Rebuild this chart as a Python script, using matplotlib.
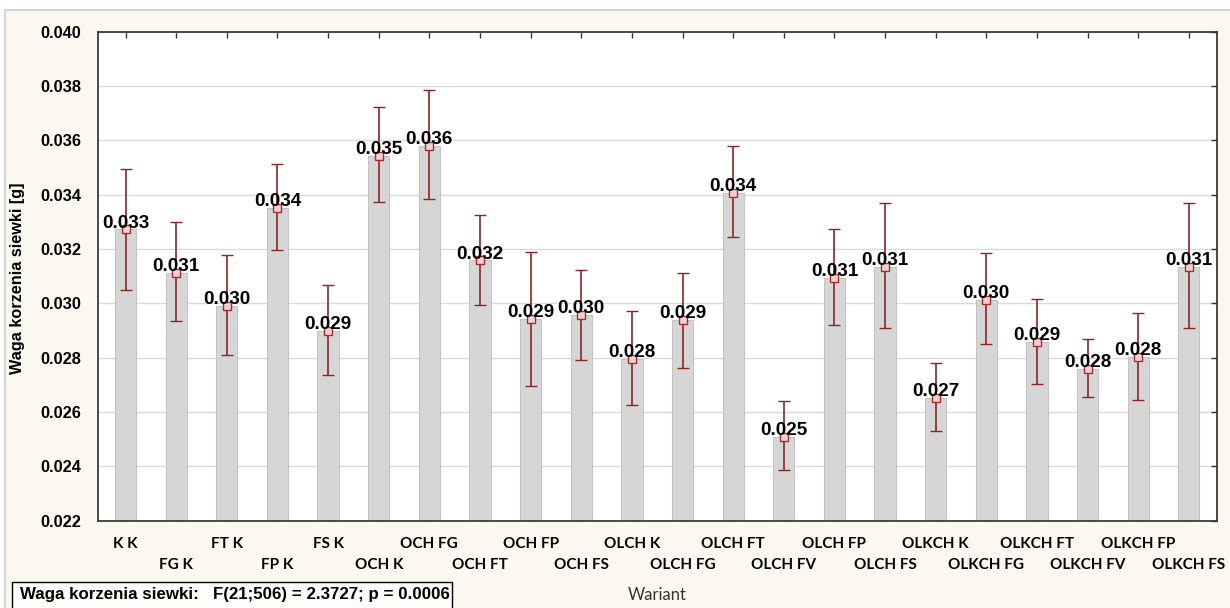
import matplotlib
matplotlib.use("Agg")
import matplotlib.pyplot as plt
from matplotlib.patches import Rectangle
import numpy as np

categories = ["K K", "FG K", "FT K", "FP K", "FS K", "OCH K", "OCH FG", "OCH FT",
              "OCH FP", "OCH FS", "OLCH K", "OLCH FG", "OLCH FT", "OLCH FV",
              "OLCH FP", "OLCH FS", "OLKCH K", "OLKCH FG", "OLKCH FT", "OLKCH FV",
              "OLKCH FP", "OLKCH FS"]
means = [0.03272, 0.03112, 0.02992, 0.03351, 0.02900, 0.03544, 0.03581, 0.03158,
         0.02943, 0.02956, 0.02797, 0.02938, 0.03407, 0.02509, 0.03092, 0.03135,
         0.02651, 0.03013, 0.02857, 0.02760, 0.02802, 0.03135]
ci_low = [0.03048, 0.02934, 0.02809, 0.03195, 0.02738, 0.03373, 0.03386, 0.02995,
          0.02695, 0.02793, 0.02625, 0.02761, 0.03245, 0.02386, 0.02921, 0.02911,
          0.02531, 0.02851, 0.02705, 0.02655, 0.02644, 0.02911]
ci_high = [0.03494, 0.03298, 0.03179, 0.03514, 0.03066, 0.03721, 0.03787, 0.03326,
           0.03189, 0.03123, 0.02972, 0.03113, 0.03580, 0.02639, 0.03274, 0.03368,
           0.02780, 0.03184, 0.03016, 0.02869, 0.02963, 0.03368]
y_ticks = [0.022, 0.024, 0.026, 0.028, 0.030, 0.032, 0.034, 0.036, 0.038, 0.040]
ylabel = "Waga korzenia siewki [g]"
xlabel = "Wariant"
stat_text = "Waga korzenia siewki:   F(21;506) = 2.3727; p = 0.0006"

W, H = 1230, 608
fig = plt.figure(figsize=(W / 100, H / 100), dpi=100, facecolor="white")

# cream frame background
fig.patches.append(Rectangle((5 / W, -0.01), 1.01 - 5 / W, 1.01 - 10 / H, transform=fig.transFigure,
                             facecolor="#fbf9ef", edgecolor="#d4d4d4", linewidth=1.5, zorder=-5))

ax = fig.add_axes([97.7 / W, 1 - 520.7 / H, (1216.7 - 97.7) / W, (520.7 - 31.7) / H])
ax.set_facecolor("white")

x = np.arange(len(categories))
m = np.array(means)
lo = m - np.array(ci_low)
hi = np.array(ci_high) - m

ax.bar(x, m - 0.022, bottom=0.022, width=0.42, color="#d6d6d6", edgecolor="#c4c4c4",
       linewidth=0.8, zorder=2)
ax.errorbar(x, m, yerr=[lo, hi], fmt="s", color="#8b2525", ecolor="#8b2525",
            elinewidth=1.2, capsize=4, capthick=1.2, markersize=5.5,
            markerfacecolor="#ecd2d2", markeredgecolor="#b02a2a", markeredgewidth=1.0,
            zorder=3)
for xi, mi in zip(x, m):
    ax.annotate(f"{mi:.3f}", (xi, mi), xytext=(0, -1.5), textcoords="offset points",
                ha="center", va="bottom", fontsize=13.6, fontweight="bold",
                family="Liberation Sans", color="black", zorder=4)

ax.set_xlim(-0.55, len(categories) - 0.45)
ax.set_ylim(0.022, 0.040)
ax.set_yticks(y_ticks)
ax.set_yticklabels([f"{v:.3f}" for v in y_ticks], fontsize=11.8, fontweight="bold",
                   family="Liberation Sans")
ax.yaxis.grid(True, color="#dadada", linewidth=1.0, zorder=0)
ax.set_axisbelow(True)

# two staggered rows of category labels
ax.set_xticks(x[0::2])
ax.set_xticklabels(categories[0::2], fontsize=11, fontweight="bold", family="Lato")
ax.set_xticks(x[1::2], minor=True)
ax.set_xticklabels(categories[1::2], minor=True, fontsize=11, fontweight="bold", family="Lato")

ax.tick_params(axis="x", which="major", direction="in", length=4, width=1, top=True,
               bottom=True, pad=12, colors="#333333", labelcolor="black")
ax.tick_params(axis="x", which="minor", direction="in", length=4, width=1, top=True,
               bottom=True, pad=27, colors="#333333", labelcolor="black")
ax.tick_params(axis="y", direction="in", length=0, left=True, right=False, pad=12,
               labelcolor="black")

for s in ax.spines.values():
    s.set_color("#3c3c3c")
    s.set_linewidth(1.3)

# right-side inward ticks without labels
axr = ax.twinx()
axr.set_ylim(ax.get_ylim())
axr.set_yticks(y_ticks)
axr.tick_params(axis="y", direction="in", length=4, width=1, colors="#333333",
                labelright=False)
for s in axr.spines.values():
    s.set_visible(False)

fig.text(18 / W, 1 - 278 / H, ylabel, rotation=90, ha="center", va="center",
         fontsize=11.7, fontweight="bold", family="Liberation Sans")
fig.text(657 / W, 1 - 595 / H, xlabel, ha="center", va="center", fontsize=12,
         family="Lato", color="#333333")

fig.patches.append(Rectangle((12 / W, -0.01), (452 - 12) / W, 1.01 - 582 / H, transform=fig.transFigure,
                             facecolor="#fdfdf9", edgecolor="black", linewidth=1.0, zorder=1))
fig.text(20 / W, 1 - 595 / H, stat_text, ha="left", va="center", fontsize=12.2,
         fontweight="bold", family="Liberation Sans", zorder=2)

fig.savefig("out.png", dpi=100, facecolor=fig.get_facecolor())
